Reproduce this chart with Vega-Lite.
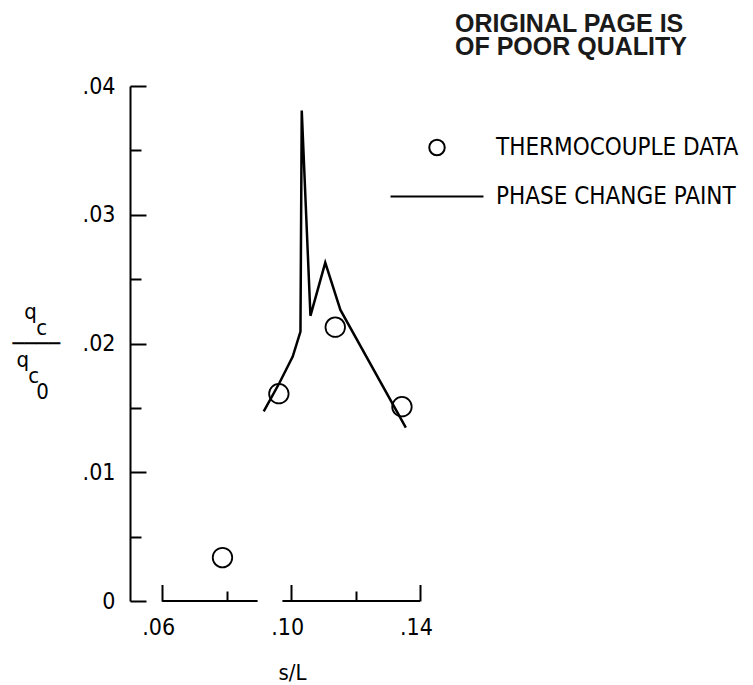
{
  "$schema": "https://vega.github.io/schema/vega-lite/v6.json",
  "width": 290,
  "height": 515,
  "autosize": {"type": "none"},
  "padding": {"left": 130, "top": 86, "right": 333, "bottom": 84},
  "background": "white",
  "config": {
    "view": {"stroke": null},
    "axis": {
      "grid": false,
      "domainColor": "black",
      "domainWidth": 2,
      "tickColor": "black",
      "tickWidth": 2,
      "labelColor": "black",
      "titleColor": "black",
      "labelFont": "DejaVu Sans Condensed",
      "titleFont": "DejaVu Sans Condensed",
      "labelFontSize": 23,
      "titleFontSize": 22,
      "titleFontWeight": "normal",
      "labelFlush": false,
      "labelOverlap": false
    }
  },
  "title": {
    "text": ["ORIGINAL PAGE IS", "OF POOR QUALITY"],
    "anchor": "start",
    "frame": "group",
    "orient": "top",
    "baseline": "alphabetic",
    "offset": 0,
    "dx": 325,
    "dy": 5,
    "font": "Liberation Sans",
    "fontSize": 25,
    "fontWeight": "bold",
    "lineHeight": 23,
    "color": "#1a1a1a"
  },
  "layer": [
    {
      "data": {"values": [{"sL": 0.06, "sL2": 0.0896}, {"sL": 0.0973, "sL2": 0.14}]},
      "mark": {"type": "rule", "color": "black", "strokeWidth": 2},
      "encoding": {
        "x": {
          "field": "sL",
          "type": "quantitative",
          "scale": {"domain": [0.05, 0.14], "nice": false, "zero": false},
          "axis": {
            "values": [0.06, 0.08, 0.1, 0.12, 0.14],
            "domain": false,
            "tickSize": {"condition": {"test": "round(datum.value*100) % 4 == 0", "value": -10}, "value": -16.5},
            "labelExpr": "round(datum.value*100) % 4 == 0 ? '' : replace(format(datum.value, '.2f'), '0.', '.')",
            "labelPadding": 32,
            "labelOffset": -4,
            "title": "s/L",
            "titleX": 162,
            "titleY": 78,
            "titleAlign": "center",
            "titleBaseline": "alphabetic"
          }
        },
        "x2": {"field": "sL2"},
        "y": {
          "datum": 0,
          "type": "quantitative",
          "scale": {"domain": [0, 0.04], "nice": false, "zero": false},
          "axis": {
            "values": [0, 0.005, 0.01, 0.015, 0.02, 0.025, 0.03, 0.035, 0.04],
            "tickSize": {"condition": {"test": "round(datum.value*1000) % 10 != 0", "value": -11}, "value": -16},
            "labelExpr": "round(datum.value*1000) % 10 != 0 ? '' : (datum.value == 0 ? '0' : replace(format(datum.value, '.2f'), '0.', '.'))",
            "labelPadding": 31,
            "title": ["\u200b\u2009\u2009\u2009q", "\u200b\u2009\u2009\u2009\u2009\u2009\u2009c", "\u2500\u2500\u2500\u2500", "\u200b\u2009q", "\u200b\u2009\u2009\u2009\u2009c", "\u200b\u2009\u2009\u2009\u2009\u2009\u20090"],
            "titleAngle": 0,
            "titleAlign": "left",
            "titleBaseline": "alphabetic",
            "titleX": -118,
            "titleY": 232,
            "titleLineHeight": 16
          }
        }
      }
    },
    {
      "data": {"values": [
        {"sL": 0.0915, "q": 0.01473},
        {"sL": 0.0964, "q": 0.01695},
        {"sL": 0.1005, "q": 0.01899},
        {"sL": 0.1029, "q": 0.02093},
        {"sL": 0.1033, "q": 0.0381},
        {"sL": 0.106, "q": 0.02215},
        {"sL": 0.1106, "q": 0.02628},
        {"sL": 0.1153, "q": 0.02261},
        {"sL": 0.1356, "q": 0.01346}
      ]},
      "mark": {"type": "line", "color": "black", "strokeWidth": 2.5, "strokeJoin": "miter"},
      "encoding": {
        "x": {"field": "sL", "type": "quantitative"},
        "y": {"field": "q", "type": "quantitative"}
      }
    },
    {
      "data": {"values": [
        {"sL": 0.0787, "q": 0.00337, "series": "THERMOCOUPLE DATA"},
        {"sL": 0.0962, "q": 0.0161, "series": "THERMOCOUPLE DATA"},
        {"sL": 0.1137, "q": 0.02127, "series": "THERMOCOUPLE DATA"},
        {"sL": 0.1344, "q": 0.01509, "series": "THERMOCOUPLE DATA"}
      ]},
      "mark": {"type": "point", "filled": false, "color": "black", "size": 380, "strokeWidth": 1.8, "opacity": 1},
      "encoding": {
        "x": {"field": "sL", "type": "quantitative"},
        "y": {"field": "q", "type": "quantitative"},
        "shape": {
          "field": "series",
          "type": "nominal",
          "scale": {"domain": ["THERMOCOUPLE DATA", "PHASE CHANGE PAINT"], "range": ["circle", "M-6,0H6"]},
          "legend": {
            "orient": "none",
            "legendX": 295,
            "legendY": 49.5,
            "title": null,
            "direction": "vertical",
            "labelFont": "DejaVu Sans Condensed",
            "labelFontSize": 24,
            "labelColor": "black",
            "labelLimit": 400,
            "symbolSize": 240,
            "symbolStrokeColor": "black",
            "symbolStrokeWidth": 2,
            "symbolFillColor": "transparent",
            "symbolOpacity": 1,
            "labelOffset": 47,
            "rowPadding": 25
          }
        }
      }
    }
  ]
}
